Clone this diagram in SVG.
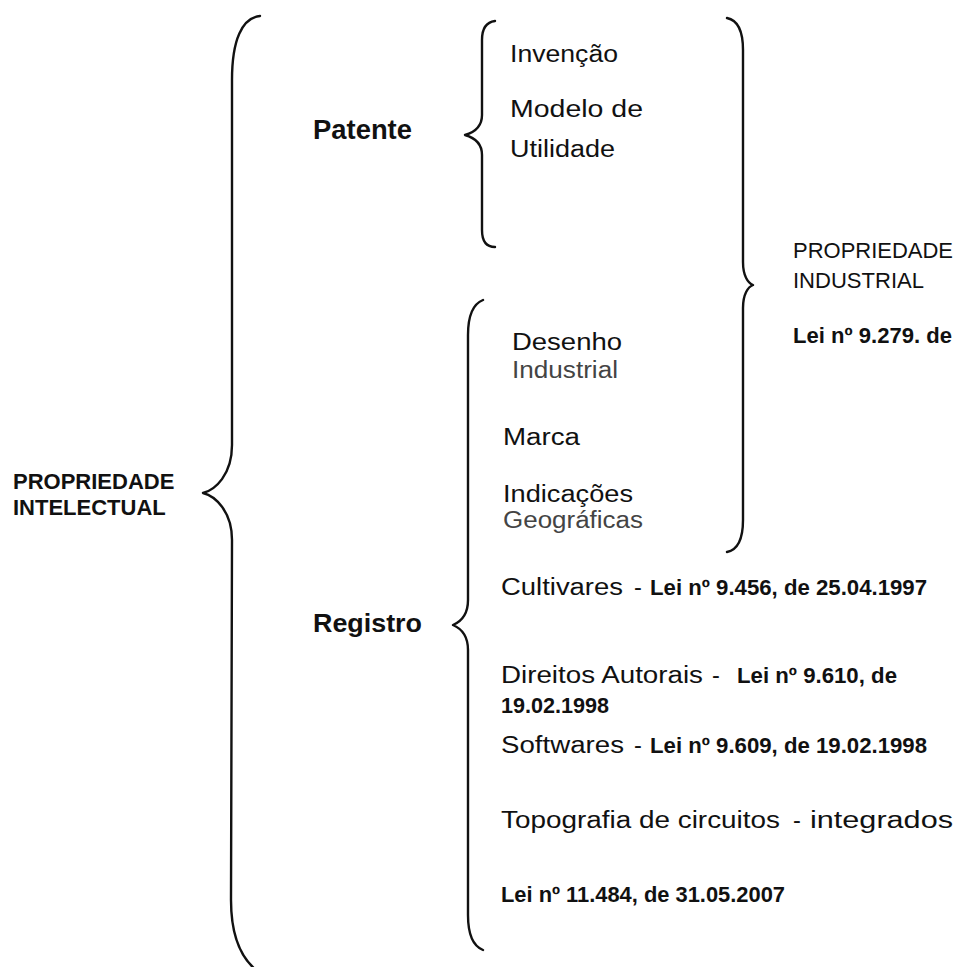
<svg xmlns="http://www.w3.org/2000/svg" width="957" height="967" viewBox="0 0 957 967">
<style>
  text { font-family: "Liberation Sans", Arial, sans-serif; fill: #111; }
  .b { font-weight: bold; }
  .reg { font-size: 23.5px; }
  .law { font-size: 21.5px; font-weight: bold; }
  .gray { fill: #444; }
  .brace { fill: none; stroke: #111; stroke-width: 2.4; stroke-linecap: round; stroke-linejoin: round; }
</style>
<rect width="957" height="967" fill="#fff"/>
<g id="connectors">
  <path class="brace" d="M260,16 C242,18 232,40 232,80 L232,445 C232,475 215,490 203,493 C215,496 232,511 232,540 L231,900 C231,930 238,955 256,970"/>
  <path class="brace" d="M495,21 C487,22 482,28 482,40 L482,115 C482,128 472,133 465,135 C472,137 482,142 482,155 L482,230 C482,242 487,247 495,247"/>
  <path class="brace" d="M727,18 C737,20 743,30 743,50 L743,262 C743,276 748,283 753,285 C748,287 743,294 743,308 L743,520 C743,540 737,550 727,552"/>
  <path class="brace" d="M483,300 C473,304 468,315 468,335 L468,600 C468,615 460,622 453,625 C460,628 468,635 468,650 L468,915 C468,935 473,946 483,950"/>
</g>
<g id="propriedade-intelectual">
  <text class="b" x="13" y="489" font-size="22">PROPRIEDADE</text>
  <text class="b" x="13" y="515" font-size="22">INTELECTUAL</text>
</g>
<g id="patente">
  <text class="b" x="313" y="139" font-size="27" textLength="99" lengthAdjust="spacingAndGlyphs">Patente</text>
</g>
<g id="registro">
  <text class="b" x="313" y="632" font-size="26" textLength="109" lengthAdjust="spacingAndGlyphs">Registro</text>
</g>
<g id="invencao">
  <text class="reg" x="510" y="62" textLength="108" lengthAdjust="spacingAndGlyphs">Invenção</text>
</g>
<g id="modelo-de-utilidade">
  <text class="reg" x="510" y="117" textLength="133" lengthAdjust="spacingAndGlyphs">Modelo de</text>
  <text class="reg" x="510" y="157" textLength="105" lengthAdjust="spacingAndGlyphs">Utilidade</text>
</g>
<g id="propriedade-industrial">
  <text x="793" y="258" font-size="21.5" textLength="160" lengthAdjust="spacingAndGlyphs">PROPRIEDADE</text>
  <text x="793" y="288" font-size="21.5" textLength="131" lengthAdjust="spacingAndGlyphs">INDUSTRIAL</text>
  <text class="law" x="793" y="343" textLength="159" lengthAdjust="spacingAndGlyphs">Lei nº 9.279. de</text>
</g>
<g id="desenho-industrial">
  <text class="reg" x="512" y="350" textLength="110" lengthAdjust="spacingAndGlyphs">Desenho</text>
  <text class="reg gray" x="512" y="378" textLength="106" lengthAdjust="spacingAndGlyphs">Industrial</text>
</g>
<g id="marca">
  <text class="reg" x="503" y="445" textLength="77" lengthAdjust="spacingAndGlyphs">Marca</text>
</g>
<g id="indicacoes-geograficas">
  <text class="reg" x="503" y="502" textLength="130" lengthAdjust="spacingAndGlyphs">Indicações</text>
  <text class="reg gray" x="503" y="528" textLength="140" lengthAdjust="spacingAndGlyphs">Geográficas</text>
</g>
<g id="cultivares">
  <text class="reg" x="501" y="595" textLength="122" lengthAdjust="spacingAndGlyphs">Cultivares</text>
  <text class="reg" x="634" y="595">-</text>
  <text class="law" x="650" y="595" textLength="277" lengthAdjust="spacingAndGlyphs">Lei nº 9.456, de 25.04.1997</text>
</g>
<g id="direitos-autorais">
  <text class="reg" x="501" y="683" textLength="202" lengthAdjust="spacingAndGlyphs">Direitos Autorais</text>
  <text class="reg" x="712" y="683">-</text>
  <text class="law" x="737" y="683" textLength="160" lengthAdjust="spacingAndGlyphs">Lei nº 9.610, de</text>
  <text class="law" x="501" y="713" textLength="108" lengthAdjust="spacingAndGlyphs">19.02.1998</text>
</g>
<g id="softwares">
  <text class="reg" x="501" y="753" textLength="123" lengthAdjust="spacingAndGlyphs">Softwares</text>
  <text class="reg" x="634" y="753">-</text>
  <text class="law" x="650" y="753" textLength="277" lengthAdjust="spacingAndGlyphs">Lei nº 9.609, de 19.02.1998</text>
</g>
<g id="topografia">
  <text class="reg" x="501" y="828" textLength="279" lengthAdjust="spacingAndGlyphs">Topografia de circuitos</text>
  <text class="reg" x="793" y="828">-</text>
  <text class="reg" x="810" y="828" textLength="143" lengthAdjust="spacingAndGlyphs">integrados</text>
  <text class="law" x="501" y="902" textLength="284" lengthAdjust="spacingAndGlyphs">Lei nº 11.484, de 31.05.2007</text>
</g>
</svg>
